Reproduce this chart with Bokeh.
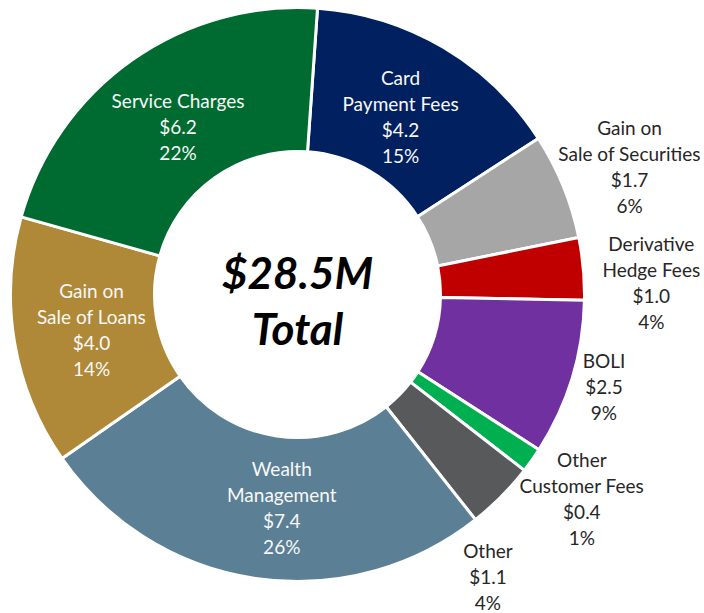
import math
from bokeh.plotting import figure
from bokeh.models import Range1d
from bokeh.core.properties import value
from bokeh.embed import file_html
from bokeh.resources import INLINE

# ---- data ----
categories = ["Card\nPayment Fees", "Gain on\nSale of Securities", "Derivative\nHedge Fees",
              "BOLI", "Other\nCustomer Fees", "Other", "Wealth\nManagement",
              "Gain on\nSale of Loans", "Service Charges"]
amounts = [4.2, 1.7, 1.0, 2.5, 0.4, 1.1, 7.4, 4.0, 6.2]
amount_labels = ["$4.2", "$1.7", "$1.0", "$2.5", "$0.4", "$1.1", "$7.4", "$4.0", "$6.2"]
pct_labels = ["15%", "6%", "4%", "9%", "1%", "4%", "26%", "14%", "22%"]
total_label = "$28.5M"

# ---- styles / layout ----
colors = ["#002060", "#A6A6A6", "#C00000", "#7030A0", "#00B050", "#58595B",
          "#5B7F95", "#AF8937", "#006B31"]
inside = [True, False, False, False, False, False, True, True, True]
label_r = [206, 356, 354, 320, 350, 340, 214, 209, 206]
label_nudge = [-0.5, 1.1, 3.2, -0.2, 0.4, 11.2, -4.2, -0.2, -0.3]
first_angle = 4.0
cx, cy = 297, -294
R_out, R_in = 287, 143
W, H = 704, 613
FONT = "Lato"
FS = 19
LH = 26

p = figure(width=W, height=H, output_backend="svg", toolbar_location=None,
           x_range=Range1d(0, W), y_range=Range1d(-H, 0),
           min_border=0)
p.axis.visible = False
p.grid.visible = False
p.outline_line_color = None
p.background_fill_color = "white"

total = sum(amounts)
cum = first_angle
starts, ends, mids = [], [], []
for a in amounts:
    span = a / total * 360.0
    s, e = cum, cum + span
    starts.append(math.radians(90 - e))
    ends.append(math.radians(90 - s))
    mids.append((s + e) / 2)
    cum = e

p.annular_wedge(x=cx, y=cy, inner_radius=R_in, outer_radius=R_out,
                start_angle=starts, end_angle=ends, fill_color=colors,
                line_color="white", line_width=3)

for i, cat in enumerate(categories):
    lines = cat.split("\n") + [amount_labels[i], pct_labels[i]]
    ang = math.radians(mids[i] + label_nudge[i])
    bx = cx + label_r[i] * math.sin(ang)
    by = cy + label_r[i] * math.cos(ang)
    n = len(lines)
    ys = [by + (n - 1) / 2 * LH - k * LH for k in range(n)]
    p.text(x=[bx] * n, y=ys, text=lines, text_align="center", text_baseline="middle",
           text_font=value(FONT), text_font_size=f"{FS}px",
           text_color="#F8F8F8" if inside[i] else "#262626")

p.text(x=[cx, cx], y=[cy + 23, cy - 33], text=[total_label, "Total"],
       text_align="center", text_baseline="middle", text_font=value(FONT),
       text_font_size="44px", text_font_style="bold italic", text_color="#000000")

open("out.html", "w").write(file_html(p, INLINE))
